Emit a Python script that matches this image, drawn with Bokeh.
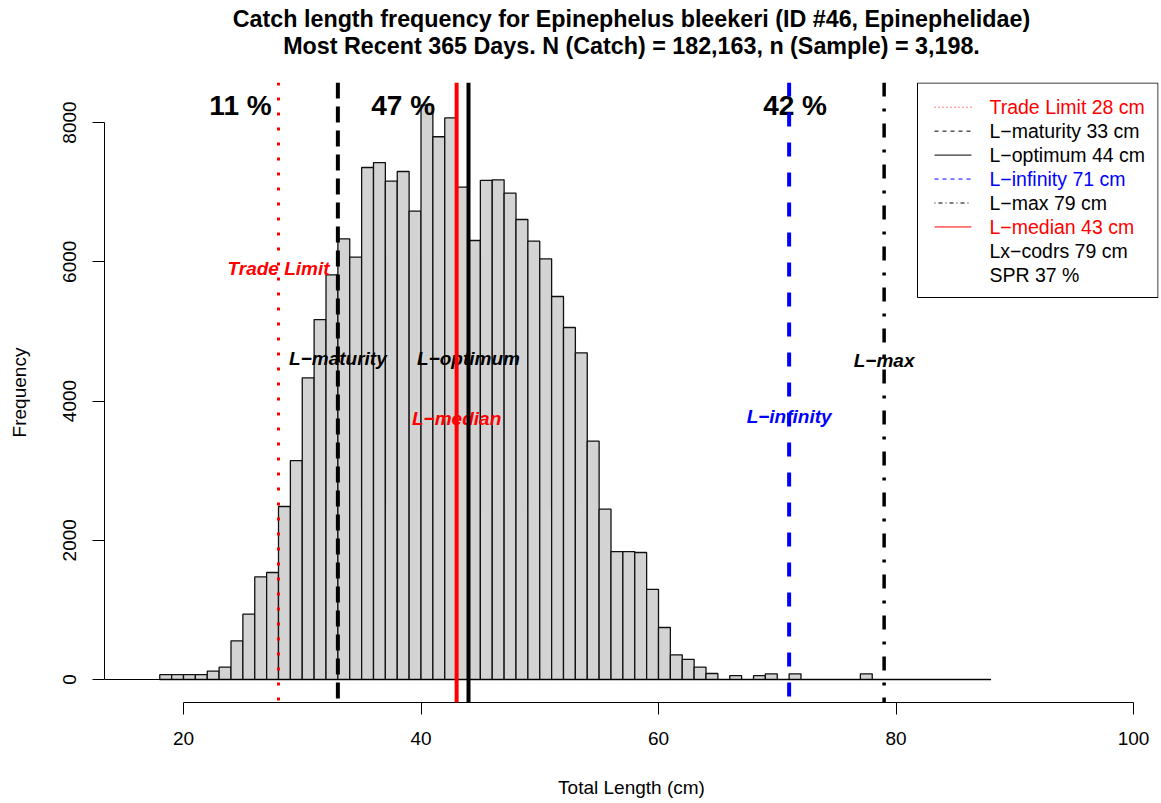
import numpy as np
from bokeh.plotting import figure
from bokeh.layouts import column
from bokeh.models import Range1d, Span, FixedTicker
from bokeh.embed import file_html
from bokeh.resources import INLINE
from bokeh.core.properties import value

# ---------------- data ----------------
bin_left = list(range(18, 88))          # 1 cm bins, 18..88
freq = [70, 70, 70, 70, 120, 177, 555, 938, 1475, 1537,
        2485, 3145, 4333, 5170, 5812, 6329, 6066, 7354, 7425, 7157,
        7296, 6726, 8250, 7795, 8065, 7071, 6305, 7170, 7177, 6985,
        6607, 6296, 6042, 5501, 5056, 4692, 3423, 2446, 1838, 1838,
        1824, 1293, 747, 354, 290, 177, 86, 0, 55, 0,
        55, 81, 0, 81, 0, 0, 0, 0, 0, 81,
        0, 0, 0, 0, 0, 0, 0, 0, 0, 0]

title1 = "Catch length frequency for Epinephelus bleekeri (ID #46, Epinephelidae)"
title2 = "Most Recent 365 Days. N (Catch) = 182,163, n (Sample) = 3,198."
x_title = "Total Length (cm)"
y_title = "Frequency"

ref_names = ["Trade Limit", "L\u2212maturity", "L\u2212optimum", "L\u2212infinity", "L\u2212max", "L\u2212median"]
ref_values = [28, 33, 44, 71, 79, 43]
ref_colors = ["red", "black", "black", "blue", "black", "red"]

pct_labels = ["11 %", "47 %", "42 %"]
pct_x = [24.8, 38.5, 71.5]

legend_texts = ["Trade Limit 28 cm", "L\u2212maturity 33 cm", "L\u2212optimum 44 cm",
                "L\u2212infinity 71 cm", "L\u2212max 79 cm", "L\u2212median 43 cm",
                "Lx\u2212codrs 79 cm", "SPR 37 %"]
legend_colors = ["red", "black", "black", "blue", "black", "red", "black", "black"]

x_ticks = [20, 40, 60, 80, 100]
y_ticks = [0, 2000, 4000, 6000, 8000]

# ---------------- geometry helpers (image pixel -> data) ----------------
def X(px):
    return 20 + (px - 183) / 11.875

def Y(py):
    return (679 - py) / 0.069625

FONT = "Liberation Sans"
TOP = 82  # height of the title strip
FL, FR = 104, 1158  # frame left / right in page pixels

# ---------------- title strip (its frame is aligned with the main frame by the column) ----
t = figure(width=1161, height=TOP, output_backend="svg", toolbar_location=None, title=None,
           x_axis_type=None, y_axis_type=None,
           x_range=Range1d(FL, FR), y_range=Range1d(TOP, 0),
           min_border_left=FL, min_border_right=1161 - FR, min_border_top=0, min_border_bottom=0)
t.xgrid.visible = False
t.ygrid.visible = False
t.outline_line_color = None
t.text(x=[631, 631], y=[18, 45], text=[title1, title2], text_color="black",
       text_font=value(FONT), text_font_size="23.3px", text_font_style="bold",
       text_align="center", text_baseline="middle")

# ---------------- main plot ----------------
p = figure(width=1161, height=803 - TOP, output_backend="svg", toolbar_location=None, title=None,
           x_range=Range1d(X(FL), X(FR)), y_range=Range1d(Y(702), Y(82)),
           min_border_left=FL, min_border_right=1161 - FR, min_border_top=0, min_border_bottom=101)
p.outline_line_color = None
p.xgrid.visible = False
p.ygrid.visible = False
p.background_fill_color = "white"
p.border_fill_color = "white"

# histogram
left = np.array(bin_left, dtype=float)
p.quad(left=left, right=left + 1, bottom=0, top=freq,
       fill_color="#D3D3D3", line_color="#111111", line_width=1.3)
p.segment(x0=[X(FL)], y0=[0], x1=[bin_left[-1] + 1], y1=[0], line_color="black", line_width=1.2)

# reference lines
styles = {
    28: dict(line_width=3, line_dash="3 12"),
    33: dict(line_width=4, line_dash="16 8"),
    44: dict(line_width=4, line_dash="solid"),
    71: dict(line_width=4, line_dash="14 16"),
    79: dict(line_width=3.5, line_dash="14 12 3 12"),
    43: dict(line_width=4, line_dash="solid"),
}
for v, c in zip(ref_values, ref_colors):
    p.add_layout(Span(location=v, dimension="height", line_color=c, **styles[v]))

# line labels
label_y = {28: Y(268), 33: Y(358), 44: Y(358), 71: Y(416), 79: Y(360), 43: Y(418)}
for name, v, c in zip(ref_names, ref_values, ref_colors):
    p.text(x=[v], y=[label_y[v]], text=[name], text_color=c, text_font=value(FONT),
           text_font_size="19px", text_font_style="bold italic",
           text_align="center", text_baseline="middle")

# percentages
p.text(x=pct_x, y=[Y(105)] * 3, text=pct_labels, text_color="black", text_font=value(FONT),
       text_font_size="28px", text_font_style="bold", text_align="center", text_baseline="middle")

# legend (manual)
p.quad(left=[X(917)], right=[X(1157.5)], top=[Y(82.5)], bottom=[Y(297)],
       fill_color="white", line_color="black", line_width=1)
row_y = [106.7 + 23.95 * i for i in range(8)]
leg_styles = [("red", "1 3"), ("black", "4 4"), ("black", "solid"), ("blue", "4 4"),
              ("black", "1 3 4 3"), ("red", "solid")]
for i, (c, d) in enumerate(leg_styles):
    p.segment(x0=[X(934)], y0=[Y(row_y[i])], x1=[X(971)], y1=[Y(row_y[i])],
              line_color=c, line_dash=d, line_width=1)
p.text(x=[X(989)] * 8, y=[Y(r) for r in row_y], text=legend_texts, text_color=legend_colors,
       text_font=value(FONT), text_font_size="19.5px", text_align="left", text_baseline="middle")

# axes
for ax, ticks in ((p.xaxis, x_ticks), (p.yaxis, y_ticks)):
    ax.ticker = FixedTicker(ticks=ticks)
    ax.minor_tick_line_color = None
    ax.major_tick_out = 12
    ax.major_tick_in = 0
    ax.axis_line_color = "black"
    ax.major_tick_line_color = "black"
    ax.major_label_text_font = FONT
    ax.major_label_text_font_size = "19px"
    ax.major_label_text_color = "black"
    ax.axis_label_text_font = FONT
    ax.axis_label_text_font_size = "19px"
    ax.axis_label_text_font_style = "normal"
    ax.axis_label_text_color = "black"
p.xaxis.bounds = (20, 100)
p.yaxis.bounds = (0, 8000)
p.xaxis.major_label_standoff = 17
p.yaxis.major_label_standoff = 17
p.yaxis.major_label_orientation = "vertical"
p.xaxis.axis_label = x_title
p.yaxis.axis_label = y_title
p.xaxis.axis_label_standoff = 29
p.yaxis.axis_label_standoff = 30

layout = column(t, p, spacing=0)
open("out.html", "w").write(file_html(layout, INLINE))
